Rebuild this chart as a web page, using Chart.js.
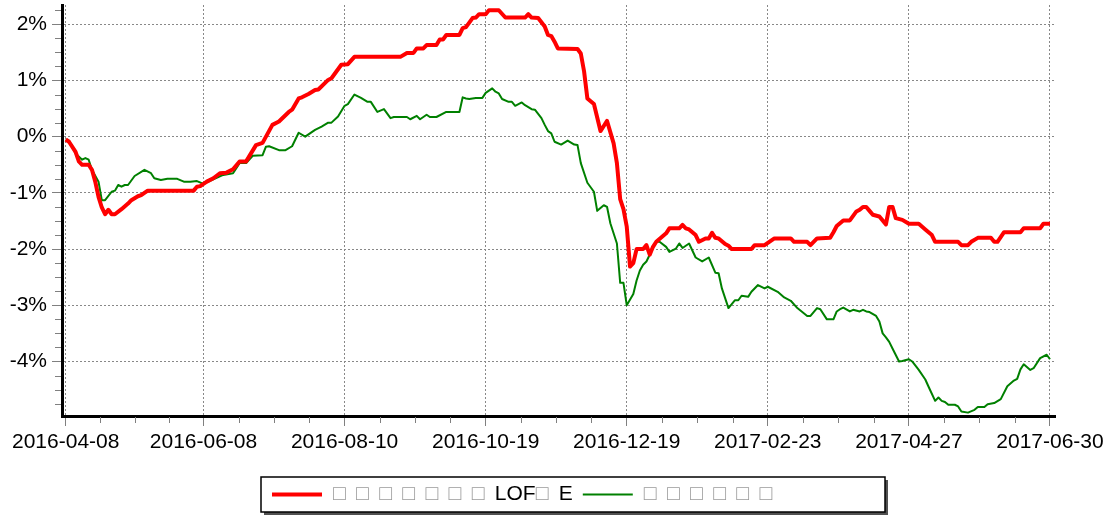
<!DOCTYPE html>
<html>
<head>
<meta charset="utf-8">
<script src="https://cdn.jsdelivr.net/npm/chart.js@4.4.0/dist/chart.umd.min.js"></script>
<style>
html, body { margin: 0; padding: 0; background: #fff; }
#wrap { width: 1108px; height: 517px; }
</style>
</head>
<body>
<div id="wrap"><canvas id="nav_chart" width="1108" height="517"></canvas></div>
<script>
// x axis: trading-day index, labelled with dates
var tickIdx = [0, 42, 85, 128, 171, 214, 257, 300];
var tickDates = ['2016-04-08', '2016-06-08', '2016-08-10', '2016-10-19', '2016-12-19', '2017-02-23', '2017-04-27', '2017-06-30'];
var yTicks = [-4, -3, -2, -1, 0, 1, 2];

var redLabel = '□ □ □ □ □ □ □ LOF□ E';
var redIdx = [0, 1, 3, 4, 5, 7, 8, 9, 10, 11, 12, 13, 14, 15, 17, 19, 20, 22, 23, 25,
  39, 40, 41, 43, 45, 47, 49, 51, 53, 55, 58, 60, 63, 65, 68, 69, 71, 72, 74, 76,
  77, 80, 81, 84, 86, 88, 102, 104, 106, 107, 109, 110, 113, 114, 115, 116, 120, 121, 122, 124,
  125, 126, 128, 129, 132, 134, 140, 141, 142, 144, 146, 147, 148, 149, 150, 156, 157, 158, 159, 161,
  163, 164, 165, 167, 168, 169, 170, 171, 172, 173, 174, 176, 177, 178, 179, 180, 183, 184, 187, 188,
  189, 190, 192, 193, 195, 196, 197, 198, 199, 201, 202, 203, 209, 210, 213, 216, 221, 222, 226, 227,
  229, 233, 234, 235, 237, 239, 241, 242, 243, 244, 245, 246, 248, 250, 251, 252, 253, 255, 257, 260,
  262, 264, 265, 272, 273, 275, 276, 278, 282, 283, 284, 286, 291, 292, 297, 298, 300];
var redVal = [-0.05, -0.09, -0.27, -0.44, -0.50, -0.50, -0.59, -0.80, -1.07, -1.26, -1.38, -1.30, -1.38, -1.38, -1.29, -1.19, -1.13, -1.06, -1.04, -0.96,
  -0.96, -0.89, -0.88, -0.80, -0.74, -0.65, -0.64, -0.58, -0.44, -0.44, -0.15, -0.11, 0.21, 0.27, 0.44, 0.48, 0.68, 0.70, 0.76, 0.83,
  0.84, 1.01, 1.04, 1.28, 1.29, 1.42, 1.42, 1.49, 1.49, 1.57, 1.57, 1.63, 1.63, 1.73, 1.73, 1.81, 1.81, 1.93, 1.95, 2.11,
  2.12, 2.18, 2.18, 2.25, 2.25, 2.12, 2.12, 2.18, 2.12, 2.11, 1.96, 1.81, 1.79, 1.69, 1.57, 1.56, 1.48, 1.16, 0.68, 0.58,
  0.10, 0.19, 0.28, -0.12, -0.47, -1.11, -1.29, -1.60, -2.31, -2.25, -2.00, -2.00, -1.93, -2.10, -1.96, -1.87, -1.72, -1.63, -1.63, -1.57,
  -1.63, -1.65, -1.75, -1.87, -1.81, -1.81, -1.71, -1.80, -1.81, -1.91, -1.94, -2.00, -2.00, -1.93, -1.93, -1.81, -1.81, -1.87, -1.87, -1.93,
  -1.81, -1.80, -1.70, -1.59, -1.49, -1.49, -1.33, -1.30, -1.25, -1.25, -1.32, -1.39, -1.42, -1.56, -1.25, -1.25, -1.45, -1.48, -1.55, -1.55,
  -1.65, -1.75, -1.87, -1.87, -1.93, -1.93, -1.87, -1.80, -1.80, -1.87, -1.87, -1.70, -1.70, -1.63, -1.63, -1.55, -1.55];

var greenLabel = '□ □ □ □ □ □';
var greenIdx = [0, 1, 3, 5, 6, 7, 8, 10, 11, 12, 14, 15, 16, 17, 18, 19, 21, 24, 26, 27,
  29, 31, 34, 36, 38, 40, 42, 45, 48, 51, 53, 55, 57, 60, 61, 62, 65, 67, 69, 71,
  73, 76, 78, 80, 81, 83, 85, 86, 88, 90, 92, 93, 95, 97, 99, 100, 104, 105, 107, 108,
  110, 111, 113, 116, 120, 121, 122, 123, 125, 127, 128, 130, 131, 132, 133, 135, 136, 137, 139, 140,
  142, 143, 145, 146, 147, 148, 149, 151, 153, 155, 156, 157, 159, 161, 162, 164, 165, 166, 168, 169,
  170, 171, 173, 174, 175, 176, 177, 178, 179, 180, 181, 183, 184, 186, 187, 188, 190, 192, 194, 196,
  198, 199, 200, 202, 204, 205, 206, 208, 209, 211, 213, 214, 217, 219, 221, 223, 226, 227, 229, 230,
  232, 234, 235, 236, 237, 239, 240, 242, 243, 244, 245, 247, 248, 249, 250, 251, 252, 254, 255, 257,
  258, 260, 262, 263, 265, 266, 267, 268, 269, 271, 272, 273, 275, 277, 278, 280, 281, 283, 285, 287,
  289, 290, 291, 292, 294, 295, 297, 299, 300];
var greenVal = [-0.05, -0.07, -0.30, -0.41, -0.38, -0.41, -0.59, -0.80, -1.13, -1.13, -0.98, -0.96, -0.86, -0.89, -0.86, -0.86, -0.70, -0.59, -0.65, -0.74,
  -0.77, -0.75, -0.75, -0.80, -0.80, -0.79, -0.84, -0.76, -0.68, -0.65, -0.47, -0.47, -0.34, -0.33, -0.18, -0.17, -0.24, -0.24, -0.17, 0.07,
  0.00, 0.12, 0.18, 0.25, 0.25, 0.36, 0.55, 0.58, 0.75, 0.69, 0.62, 0.62, 0.44, 0.49, 0.33, 0.35, 0.35, 0.31, 0.37, 0.31,
  0.39, 0.35, 0.35, 0.44, 0.44, 0.70, 0.68, 0.67, 0.69, 0.69, 0.78, 0.86, 0.80, 0.77, 0.67, 0.62, 0.62, 0.55, 0.61, 0.56,
  0.49, 0.48, 0.33, 0.21, 0.10, 0.06, -0.09, -0.14, -0.07, -0.14, -0.15, -0.47, -0.82, -0.98, -1.32, -1.22, -1.25, -1.54, -1.90, -2.60,
  -2.60, -3.00, -2.80, -2.56, -2.38, -2.28, -2.22, -2.10, -1.96, -1.87, -1.87, -1.96, -2.05, -1.99, -1.90, -1.98, -1.90, -2.15, -2.22, -2.15,
  -2.42, -2.43, -2.70, -3.05, -2.91, -2.91, -2.83, -2.85, -2.76, -2.64, -2.70, -2.67, -2.76, -2.86, -2.92, -3.05, -3.19, -3.19, -3.05, -3.07,
  -3.25, -3.25, -3.11, -3.07, -3.04, -3.11, -3.08, -3.11, -3.08, -3.11, -3.12, -3.19, -3.29, -3.50, -3.57, -3.65, -3.77, -4.00, -3.99, -3.96,
  -4.00, -4.15, -4.32, -4.45, -4.70, -4.64, -4.70, -4.72, -4.77, -4.77, -4.80, -4.89, -4.91, -4.86, -4.81, -4.81, -4.76, -4.74, -4.67, -4.44,
  -4.34, -4.31, -4.14, -4.05, -4.15, -4.12, -3.94, -3.88, -3.96];

var FONT = '"Liberation Sans", Arial, sans-serif';

function toPoints(xs, ys) {
  return xs.map(function (x, i) { return { x: x, y: ys[i] }; });
}

// minor tick marks on both axes
var minorTicks = {
  id: 'minorTicks',
  afterDraw: function (chart) {
    var ctx = chart.ctx, xs = chart.scales.x, ys = chart.scales.y;
    ctx.save();
    ctx.strokeStyle = '#808080';
    ctx.lineWidth = 1;
    ctx.beginPath();
    for (var i = 0; i < tickIdx.length - 1; i++) {
      var step = (tickIdx[i + 1] - tickIdx[i]) / 4;
      for (var k = 1; k < 4; k++) {
        var px = Math.round(xs.getPixelForValue(tickIdx[i] + k * step)) + 0.5;
        ctx.moveTo(px, ys.bottom + 1);
        ctx.lineTo(px, ys.bottom + 7);
      }
    }
    for (var q = -19; q <= 9; q++) {
      if (q % 4 === 0) continue;
      var py = Math.round(ys.getPixelForValue(q / 4)) + 0.5;
      ctx.moveTo(xs.left - 1, py);
      ctx.lineTo(xs.left - 7, py);
    }
    ctx.stroke();
    ctx.restore();
  }
};

// framed legend with a drop shadow
var boxLegend = {
  id: 'boxLegend',
  afterDraw: function (chart) {
    var ctx = chart.ctx;
    var bx = 261, by = 477, bw = 624, bh = 35;
    ctx.save();
    ctx.fillStyle = '#505050';
    ctx.fillRect(bx + 3, by + 3, bw, bh);
    ctx.fillStyle = '#fff';
    ctx.fillRect(bx, by, bw, bh);
    ctx.strokeStyle = '#000';
    ctx.lineWidth = 1.5;
    ctx.strokeRect(bx, by, bw, bh);
    var x = bx + 11, cy = by + 17.5;
    ctx.font = '21px ' + FONT;
    ctx.textBaseline = 'middle';
    chart.data.datasets.forEach(function (ds) {
      ctx.strokeStyle = ds.borderColor;
      ctx.lineWidth = ds.borderWidth;
      ctx.beginPath();
      ctx.moveTo(x, cy);
      ctx.lineTo(x + 50, cy);
      ctx.stroke();
      x += 61;
      for (var ch of ds.label) {
        var tofu = ch === '□';
        ctx.fillStyle = tofu ? '#9a9a9a' : '#000';
        ctx.fillText(ch, x, cy);
        x += ctx.measureText(ch).width + (tofu || ch === ' ' ? 2.3 : 0);
      }
      x += 10;
    });
    ctx.restore();
  }
};

const config = {
  type: 'line',
  data: {
    datasets: [{
      label: redLabel,
      data: toPoints(redIdx, redVal),
      borderColor: '#ff0000',
      borderWidth: 4,
      borderJoinStyle: 'round',
      pointRadius: 0,
      fill: false
    }, {
      label: greenLabel,
      data: toPoints(greenIdx, greenVal),
      borderColor: '#008000',
      borderWidth: 2,
      borderJoinStyle: 'round',
      pointRadius: 0,
      fill: false
    }]
  },
  options: {
    responsive: false,
    animation: false,
    layout: { padding: { left: 0, top: 5, right: 52, bottom: 51 } },
    plugins: {
      legend: { display: false },
      tooltip: { enabled: false }
    },
    elements: { line: { tension: 0 } },
    scales: {
      x: {
        type: 'linear',
        min: -1.13,
        max: 301.8,
        afterBuildTicks: function (s) { s.ticks = tickIdx.map(function (v) { return { value: v }; }); },
        afterFit: function (s) { s.height = 50; },
        ticks: {
          callback: function (v, i) { return tickDates[i]; },
          autoSkip: false,
          maxRotation: 0,
          padding: 4,
          color: '#000',
          font: { size: 21, family: FONT }
        },
        grid: { color: '#888', lineWidth: 1, tickLength: 10, tickColor: '#808080', tickBorderDash: [] },
        border: { color: '#000', width: 3, dash: [2, 2] }
      },
      y: {
        min: -4.97,
        max: 2.343,
        afterBuildTicks: function (s) { s.ticks = yTicks.map(function (v) { return { value: v }; }); },
        afterFit: function (s) { s.width = 62; s.paddingTop = 0; s.paddingBottom = 0; },
        ticks: {
          callback: function (v) { return v + '%'; },
          padding: 5,
          color: '#000',
          font: { size: 21, family: FONT }
        },
        grid: { color: '#888', lineWidth: 1, tickLength: 10, tickColor: '#808080', tickBorderDash: [] },
        border: { color: '#000', width: 3, dash: [2, 2] }
      }
    }
  },
  plugins: [minorTicks, boxLegend]
};

window.onload = function () {
  var ctx = document.getElementById('nav_chart').getContext('2d');
  window.navChart = new Chart(ctx, config);
};
</script>
</body>
</html>
